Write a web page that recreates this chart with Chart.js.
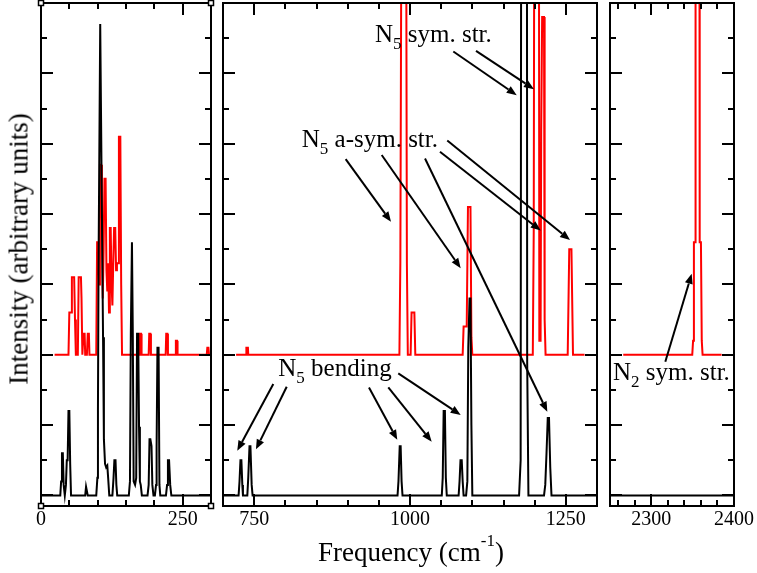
<!DOCTYPE html>
<html>
<head>
<meta charset="utf-8">
<script src="https://cdn.jsdelivr.net/npm/chart.js@4.4.1/dist/chart.umd.min.js"></script>
<style>
    html, body { margin: 0; padding: 0; background: #fff; overflow: hidden; }
    #wrap { position: relative; width: 757px; height: 573px; }
    canvas { position: absolute; top: 0; }
    .title { position: absolute; font-family: "Liberation Serif", "Times New Roman", serif; font-size: 27px; line-height: 1; white-space: nowrap; color: #000; }
    #yTitle { left: 19px; top: 249px; transform: translate(-50%, -50%) rotate(-90deg); }
    #xTitle { left: 411px; top: 539px; transform: translateX(-50%); }
    #xTitle span { font-size: 17px; position: relative; top: -15px; }
</style>
</head>
<body>
<div id="wrap">
    <canvas id="lowChart" width="218" height="546"></canvas>
    <canvas id="midChart" width="422" height="546"></canvas>
    <canvas id="highChart" width="172" height="546"></canvas>
    <div class="title" id="yTitle">Intensity (arbitrary units)</div>
    <div class="title" id="xTitle">Frequency (cm<span>-1</span>)</div>
</div>
<script>
const BLACK = '#000000';
const RED = '#ff0000';
const RED_OFFSET = 4;           // red spectrum is shifted up by 4 units
const FONT = '"Liberation Serif", "Times New Roman", serif';

// frequency ranges and tick labels of the three panels
const RANGE_LOW = [0, 300];
const RANGE_MID = [700, 1300];
const RANGE_HIGH = [2250, 2400];
const LABELS_LOW = [0, 250];
const LABELS_MID = [750, 1000, 1250];
const LABELS_HIGH = [2300, 2400];

// spectra as [frequency, intensity] pairs
const BLACK_LOW = [[0,0],[34,0],[35.5,0.4],[37,1.2],[38.5,1.2],[40,0.3],[42,0],[44,0.3],[45.5,1.0],[47,1.0],[48.5,2.4],[50,2.4],
    [51.5,0.9],[53,0],[78,0],[79.5,0.25],[81,0.25],[82.5,0],[97.5,0],[99.5,0.5],[100.5,2.4],[101.5,6.4],[104.5,13.4],[105.5,13.4],
    [107.5,8.0],[109.5,4.5],[111,1.6],[113,0.9],[115,0.8],[117,0.85],[118.5,0.5],[120.5,0],[126,0],[128,0.5],[129.5,1.0],[131.5,1.0],
    [133,0.3],[134.5,0],[155,0],[157,0.4],[158.5,4.6],[160.5,7.2],[162,4.6],[163.5,0.4],[166,0.3],[168,0.5],[169.5,4.6],[171.5,4.6],
    [173,1.95],[174.5,0.4],[176,0.3],[178,0],[188,0],[190,0.3],[191.5,1.6],[193,1.6],[195,1.4],[196.5,0.3],[198.5,0],[201,0],
    [203,0.3],[204,1.4],[205.5,4.2],[207.5,4.2],[209,0.3],[210.5,0],[220.5,0],[222.5,0.3],[224,1.0],[226,1.0],[228,0.3],[230,0],[300,0]];
const RED_LOW = [[24,0],[48.5,0],[50,1.2],[53,1.2],[54.5,2.2],[58.5,2.2],[60,1.0],[61.5,0],[65,0],[66.5,2.2],[70.5,2.2],[71.5,1.6],
    [73,0],[74,0],[75,0.6],[77,0.6],[78,0],[81,0],[82.5,0.6],[84.5,0.6],[85.5,0],[97.5,0],[99,3.2],[101,3.2],[102.5,2.0],[104,5.4],
    [106,5.4],[107.5,4.0],[109,1.6],[110.5,3.0],[112,5.0],[114,5.0],[115.5,2.4],[117,1.8],[118.5,2.6],[120,1.2],[121.5,3.6],[123,3.6],
    [124.5,2.0],[126,1.4],[127.5,2.6],[129,3.6],[131,3.6],[132.5,2.4],[134,2.6],[136,2.6],[137.5,6.2],[140,6.2],[141.5,2.0],[143,0],
    [173.5,0],[174.5,0.6],[176.5,0.6],[177.5,0],[190,0],[191,0.6],[193,0.6],[194,0],[220,0],[221,0.6],[223,0.6],[224,0],[237,0],
    [238,0.4],[240,0.4],[241,0],[292.5,0],[293.5,0.2],[295.5,0.2],[296.5,0],[300,0]];
const BLACK_MID = [[700,0],[725,0],[726.5,0.4],[728,1.0],[729.5,1.0],[731,0.3],[732,0],[739,0],[740.5,0.5],[742.5,1.4],[744,1.4],
    [746,0.3],[747.5,0],[980,0],[981.5,0.4],[983.5,1.4],[985,1.4],[986.5,0.4],[988,0],[1051,0],[1052.5,0.5],[1054,2.4],[1056,2.4],
    [1057.5,0.5],[1059,0],[1078,0],[1079.5,0.4],[1081,1.0],[1083,1.0],[1084.5,0.4],[1086,0],[1090,0],[1092,0.4],[1093.5,4.2],
    [1095.5,5.6],[1097,5.6],[1098.5,2.0],[1100,0],[1175,0],[1177.5,1.0],[1178.5,20],[1187.5,20],[1188,3.8],[1190,0],[1215,0],
    [1217,0.3],[1219,1.2],[1221,2.2],[1223,2.2],[1225,0.8],[1227,0],[1300,0]];
const RED_MID = [[721,0],[737,0],[737.5,0.2],[740,0.2],[740.5,0],[983,0],[984.5,2.6],[987.5,20],[993,20],[995,2.6],[996.5,0],
    [1001,0],[1002.5,1.2],[1007,1.2],[1008.5,0],[1084.5,0],[1086,0.8],[1091,0.8],[1093,4.2],[1097,4.2],[1098.5,0.5],[1100,0],
    [1197,0],[1198.5,3.5],[1200,20],[1206.5,20],[1207.5,0.4],[1209.5,0.4],[1210.5,6.4],[1212,9.6],[1215,9.6],[1216,1.0],[1217.5,0],
    [1253,0],[1254.5,1.8],[1255.5,3.0],[1259,3.0],[1260,1.8],[1261.5,0],[1280,0]];
const BLACK_HIGH = [[2250,0],[2400,0]];
const RED_HIGH = [[2266,0],[2349.5,0],[2350.5,0.4],[2351.5,3.2],[2353,3.2],[2353.5,20],[2358,20],[2358.5,3.2],[2360,3.2],
    [2361,0.4],[2362,0],[2385,0]];

// annotations: label anchors and arrows [fromX, fromY, toX, toY] in data units
const NOTES_MID = [
    { x: 943.8, y: 12.9, main: 'N', sub: '5', rest: ' sym. str.' },
    { x: 826.3, y: 9.91, main: 'N', sub: '5', rest: ' a-sym. str.' },
    { x: 788.7, y: 3.40, main: 'N', sub: '5', rest: ' bending' },
];
const ARROWS_MID = [
    [1069.5, 12.62, 1171.2, 11.38], [1105.9, 12.64, 1198.9, 11.55],
    [896.8, 9.56, 969.5, 7.78], [954.6, 9.68, 1081.3, 6.46], [1024.1, 9.58, 1220.3, 2.38],
    [1048.1, 9.77, 1209.7, 7.53], [1059.8, 10.09, 1256.7, 7.26],
    [780.7, 3.17, 722.9, 1.27], [802.2, 3.09, 752.9, 1.31], [934.2, 3.07, 979.6, 1.58],
    [965.2, 3.07, 1034.8, 1.53], [981.2, 3.47, 1081.3, 2.29],
];
const NOTES_HIGH = [{ x: 2253.6, y: 3.28, main: 'N', sub: '2', rest: ' sym. str.' }];
const ARROWS_HIGH = [[2316.9, 3.80, 2348.8, 6.30]];

const PAD = 24;
const MAJOR_LEN = 12;
const MINOR_LEN = 6;

/**
 * Frame, inward ticks and annotations drawn with the chart's own scales
 */
const oFramePlugin = {
    id: 'frame',
    afterDatasetsDraw: function(chart, args, opts) {
        const ctx = chart.ctx, a = chart.chartArea;
        const xs = chart.scales.x, ys = chart.scales.y;
        ctx.save();
        ctx.strokeStyle = BLACK;
        ctx.lineWidth = 2;
        ctx.beginPath();
        for (let v = opts.minorStart; v <= xs.max + 1e-6; v += opts.minorStep) {
            const px = Math.round(xs.getPixelForValue(v));
            const len = opts.majors.indexOf(v) >= 0 ? MAJOR_LEN : MINOR_LEN;
            ctx.moveTo(px, a.bottom); ctx.lineTo(px, a.bottom - len);
            ctx.moveTo(px, a.top); ctx.lineTo(px, a.top + len);
        }
        for (let v = 0; v < ys.max; v++) {
            const py = Math.round(ys.getPixelForValue(v));
            const len = v % 2 === 0 ? MAJOR_LEN : MINOR_LEN;
            ctx.moveTo(a.left, py); ctx.lineTo(a.left + len, py);
            ctx.moveTo(a.right, py); ctx.lineTo(a.right - len, py);
        }
        ctx.stroke();
        ctx.strokeRect(a.left, a.top, a.width, a.height);
        if (opts.corners) {
            ctx.lineWidth = 1.5;
            [[a.left, a.top], [a.right, a.top], [a.left, a.bottom], [a.right, a.bottom]].forEach(function(c) {
                ctx.fillStyle = '#fff';
                ctx.fillRect(c[0] - 2.5, c[1] - 2.5, 5, 5);
                ctx.strokeRect(c[0] - 2.5, c[1] - 2.5, 5, 5);
            });
        }
        ctx.restore();
    },
    afterDraw: function(chart, args, opts) {
        const ctx = chart.ctx, xs = chart.scales.x, ys = chart.scales.y;
        ctx.save();
        ctx.fillStyle = BLACK;
        ctx.strokeStyle = BLACK;
        (opts.arrows || []).forEach(function(r) {
            const x0 = xs.getPixelForValue(r[0]), y0 = ys.getPixelForValue(r[1]);
            const x1 = xs.getPixelForValue(r[2]), y1 = ys.getPixelForValue(r[3]);
            const ang = Math.atan2(y1 - y0, x1 - x0);
            const hl = 10, hw = 4;
            const bx = x1 - hl * Math.cos(ang), by = y1 - hl * Math.sin(ang);
            ctx.lineWidth = 2;
            ctx.beginPath();
            ctx.moveTo(x0, y0);
            ctx.lineTo(bx, by);
            ctx.stroke();
            ctx.beginPath();
            ctx.moveTo(x1, y1);
            ctx.lineTo(bx + hw * Math.sin(ang), by - hw * Math.cos(ang));
            ctx.lineTo(bx - hw * Math.sin(ang), by + hw * Math.cos(ang));
            ctx.closePath();
            ctx.fill();
        });
        ctx.textBaseline = 'alphabetic';
        ctx.textAlign = 'left';
        (opts.notes || []).forEach(function(n) {
            let x = xs.getPixelForValue(n.x);
            const y = ys.getPixelForValue(n.y);
            ctx.font = '25px ' + FONT;
            ctx.fillText(n.main, x, y);
            x += ctx.measureText(n.main).width;
            ctx.font = '17px ' + FONT;
            ctx.fillText(n.sub, x, y + 7);
            x += ctx.measureText(n.sub).width;
            ctx.font = '25px ' + FONT;
            ctx.fillText(n.rest, x, y);
        });
        ctx.restore();
    }
};

let oSpectrum = {
    init: function() {
        this.cacheDom();
        this.drawPanels();
    },
    cacheDom: function() {
        this.oLow = document.getElementById('lowChart');
        this.oMid = document.getElementById('midChart');
        this.oHigh = document.getElementById('highChart');
    },
    /**
     * Builds a line dataset from [x, y] pairs
     */
    buildDataset: function(aPairs, sColor, iOffset) {
        return {
            data: aPairs.map(function(p) { return { x: p[0], y: p[1] + iOffset }; }),
            borderColor: sColor,
            borderWidth: 2,
            pointRadius: 0,
            tension: 0,
            fill: false,
            clip: 0
        };
    },
    /**
     * Places the canvas so that the plot area sits at [iLeft, iRight]
     */
    drawPanel: function(oCanvas, iLeft, iRight, aRange, aLabels, oFrame, aBlack, aRed) {
        oCanvas.style.left = (iLeft - PAD) + 'px';
        oCanvas.width = iRight - iLeft + 2 * PAD;
        return new Chart(oCanvas, {
            type: 'line',
            data: {
                datasets: [
                    this.buildDataset(aBlack, BLACK, 0),
                    this.buildDataset(aRed, RED, RED_OFFSET)
                ]
            },
            options: {
                responsive: false,
                animation: false,
                devicePixelRatio: 1,
                layout: { padding: { left: PAD, right: PAD, top: 3, bottom: 0 } },
                plugins: { legend: { display: false }, tooltip: { enabled: false }, frame: oFrame },
                scales: {
                    x: {
                        type: 'linear',
                        min: aRange[0],
                        max: aRange[1],
                        grid: { display: false, drawTicks: false },
                        border: { display: false },
                        afterBuildTicks: function(scale) {
                            scale.ticks = aLabels.map(function(v) { return { value: v }; });
                        },
                        afterFit: function(scale) { scale.height = 40; },
                        ticks: {
                            autoSkip: false,
                            maxRotation: 0,
                            padding: 2,
                            color: BLACK,
                            font: { family: FONT, size: 20 },
                            callback: function(v) { return String(v); }
                        }
                    },
                    y: { display: false, min: -0.3, max: 14 }
                }
            },
            plugins: [oFramePlugin]
        });
    },
    drawPanels: function() {
        this.drawPanel(this.oLow, 41, 211, RANGE_LOW, LABELS_LOW,
            { minorStart: 0, minorStep: 50, majors: LABELS_LOW, corners: true }, BLACK_LOW, RED_LOW);
        this.drawPanel(this.oMid, 223, 597, RANGE_MID, LABELS_MID,
            { minorStart: 700, minorStep: 50, majors: LABELS_MID, notes: NOTES_MID, arrows: ARROWS_MID }, BLACK_MID, RED_MID);
        this.drawPanel(this.oHigh, 610, 734, RANGE_HIGH, LABELS_HIGH,
            { minorStart: 2260, minorStep: 20, majors: LABELS_HIGH, notes: NOTES_HIGH, arrows: ARROWS_HIGH }, BLACK_HIGH, RED_HIGH);
    }
};

oSpectrum.init();
</script>
</body>
</html>
